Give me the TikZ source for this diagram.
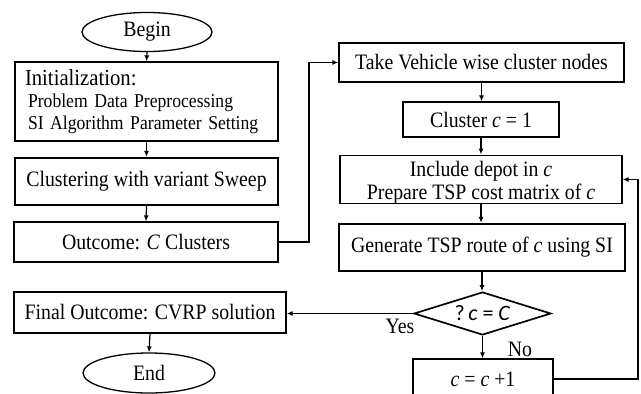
\documentclass[tikz,border=0pt]{standalone}
\usepackage{fontspec}
\setmainfont{Liberation Serif}[FakeStretch=0.9]
\newfontfamily\decisionfont{Carlito}
\usetikzlibrary{shapes.geometric,arrows.meta}

\begin{document}
\begin{tikzpicture}[x=1pt,y=-1pt,
  box/.style={draw, line width=1.3pt, inner sep=0pt, align=center,
    font=\fontsize{22}{24}\selectfont},
  heavybox/.style={box, line width=2.4pt},
  terminal/.style={draw, ellipse, line width=1.3pt, inner sep=0pt,
    font=\fontsize{22}{24}\selectfont},
  decision/.style={draw, diamond, line width=1.7pt, inner sep=0pt, aspect=3.2,
    minimum width=137pt, minimum height=43pt,
    font=\decisionfont\fontsize{22}{24}\selectfont},
  lbl/.style={inner sep=0pt, font=\fontsize{22}{24}\selectfont},
  flow/.style={line width=1.2pt, -{Latex[length=6pt,width=5pt]}}]

\useasboundingbox (0,0) rectangle (641,394);
\clip (0,0) rectangle (641,394);

% left column
\node[terminal, minimum width=130pt, minimum height=39pt] (begin) at (147,32) {Begin};
\node[box, minimum width=263pt, minimum height=79pt, text width=243pt, inner xsep=10pt,
      align=left, font=\fontsize{19.6}{22}\selectfont] (init) at (146.5,101.5)
  {\mbox{\fontsize{23}{22}\selectfont Initialization:}\\
   \mbox{\hspace*{3pt}Problem Data Preprocessing}\\
   \mbox{\hspace*{3pt}SI Algorithm Parameter Setting}};
\node[heavybox, minimum width=263pt, minimum height=47pt] (sweep) at (146.5,181.5)
  {Clustering with variant Sweep};
\node[box, minimum width=264pt, minimum height=40pt] (outcome) at (146,242)
  {Outcome: \textit{C} Clusters};
\node[box, minimum width=272pt, minimum height=41pt] (final) at (150,312.5)
  {Final Outcome: CVRP solution};
\node[terminal, minimum width=132pt, minimum height=40pt] (end) at (149,373) {End};

% right column
\node[box, minimum width=285pt, minimum height=39pt] (take) at (481.5,62.5)
  {Take Vehicle wise cluster nodes};
\node[box, minimum width=156pt, minimum height=35pt] (first) at (481,119.5)
  {Cluster \textit{c} = 1};
\node[box, minimum width=282pt, minimum height=45pt] (depot) at (481,179.5)
  {\rule{0pt}{21pt}Include depot in \textit{c}\\[-1pt]Prepare TSP cost matrix of \textit{c}};
\node[heavybox, minimum width=286pt, minimum height=47pt] (route) at (482,247.5)
  {Generate TSP route of \textit{c} using SI};
\node[decision] (test) at (482.5,313.5) {?\,\textit{c} = \textit{C}};
\node[box, minimum width=140pt, minimum height=40pt] (next) at (483,379)
  {\textit{c} = \textit{c} +1};

\node[lbl] (yes) at (400,326) {Yes};
\node[lbl] (no) at (520,349) {No};

% turning points of the elbow connectors
\coordinate (jumpup) at (309,242);
\coordinate (loopback) at (638,379);

% connectors
\draw[flow] (begin.south) -- (init.north);
\draw[flow] (init.south) -- (sweep.north);
\draw[flow] (sweep.south) -- (outcome.north);
\draw[flow] (outcome.east) -- (jumpup) |- (take.west);
\draw[flow] (take.south) -- (first.north -| take.south);
\draw[flow] (first.south) -- (depot.north -| first.south);
\draw[flow] (depot.south) -- (route.north -| depot.south);
\draw[flow] (route.south) -- (test.north -| route.south);
\draw[flow] (test.south) -- (next.north -| test.south);
\draw[flow] (test.west) -- (final.east |- test.west);
\draw[flow] (next.east) -- (loopback) |- (depot.east);
\draw[flow] (final.south) -- (end.north);
\end{tikzpicture}
\end{document}
